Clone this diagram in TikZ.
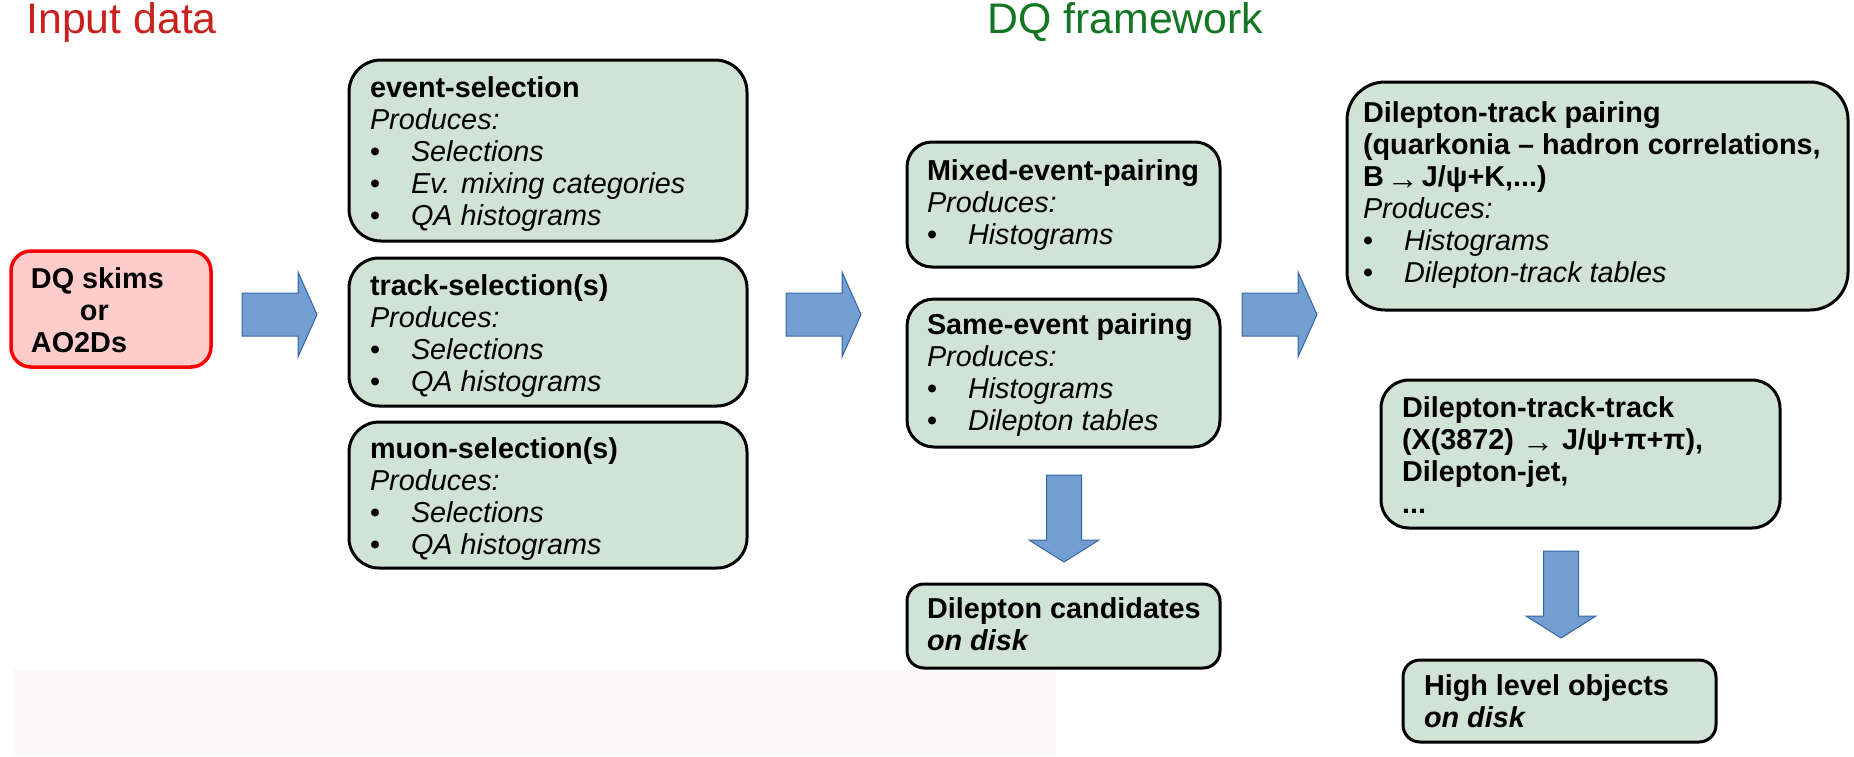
\documentclass[tikz,border=0pt]{standalone}
\usepackage{fontspec}
\setmainfont{Liberation Sans}
\usetikzlibrary{fit}
\definecolor{boxgreen}{HTML}{D0E3D4}
\definecolor{boxpink}{HTML}{FFCCCC}
\definecolor{boxred}{HTML}{FF0000}
\definecolor{arrfill}{HTML}{729FCF}
\definecolor{arrline}{HTML}{3465A4}
\definecolor{titlered}{HTML}{C9211E}
\definecolor{titlegreen}{HTML}{127622}
\definecolor{faintbg}{HTML}{FAF8F9}
\newcommand{\boxtext}[1]{\begin{minipage}[t]{260pt}\fontsize{14.4}{16}\selectfont\raggedright\noindent #1\end{minipage}}
\newcommand{\itm}[1]{\makebox[20.5pt][l]{•}\textit{#1}}
\newcommand{\smarr}{{\fontsize{16}{16}\selectfont\mdseries\raisebox{-1.5pt}{→}}}
\tikzset{
  gbox/.style={draw=black, line width=1.5pt, fill=boxgreen, inner sep=0pt},
  pbox/.style={draw=boxred, line width=1.75pt, fill=boxpink, inner sep=0pt},
  txt/.style={anchor=base west, inner sep=0pt, outer sep=0pt},
  title/.style={anchor=base west, inner sep=0pt, font=\fontsize{21.4}{24}\selectfont},
  arrstyle/.style={fill=arrfill, draw=arrline, line width=0.5pt, line join=miter},
  rarrow/.pic={\draw[arrstyle] (0,-21.5) -- (56,-21.5) -- (56,-42.5) -- (75,0) -- (56,42.5) -- (56,21.5) -- (0,21.5) -- cycle;},
  darrow/.pic={\draw[arrstyle] (-17.5,0) -- (17.5,0) -- (17.5,65) -- (35,65) -- (0,87) -- (-35,65) -- (-17.5,65) -- cycle;}
}
\begin{document}
\begin{tikzpicture}[x=0.5pt, y=-0.5pt]
\useasboundingbox (0,0) rectangle (1854,756);
\fill[faintbg] (14,669) rectangle (1056,756);

% titles
\node[title, text=titlered] (tin) at (26,33) {Input data};
\node[title, text=titlegreen] (tdq) at (987,33) {DQ framework};

% boxes
\node[pbox, rounded corners=10pt, fit={(11,251) (211,367)}] (dq) {};
\node[gbox, rounded corners=16pt, fit={(349,60) (747,241)}] (ev) {};
\node[gbox, rounded corners=15pt, fit={(349,258) (747,406)}] (tr) {};
\node[gbox, rounded corners=15pt, fit={(349,422) (747,568)}] (mu) {};
\node[gbox, rounded corners=12.5pt, fit={(907,142) (1220,267)}] (mix) {};
\node[gbox, rounded corners=13.5pt, fit={(907,299) (1220,447)}] (same) {};
\node[gbox, rounded corners=8.5pt, fit={(907,584) (1220,668)}] (cand) {};
\node[gbox, rounded corners=19pt, fit={(1347,82) (1848,310)}] (dtp) {};
\node[gbox, rounded corners=14pt, fit={(1381,380) (1780,528)}] (dtt) {};
\node[gbox, rounded corners=8.5pt, fit={(1403,660) (1716,742)}] (hlo) {};

% texts
\node[txt] (dqt) at (31,288) {\boxtext{\textbf{DQ skims}\\ \hspace*{24.5pt}\textbf{or}\\ \textbf{AO2Ds}}};
\node[txt] (evt) at (370,97) {\boxtext{\textbf{event-selection}\\ \textit{Produces:}\\ \itm{Selections}\\ \itm{Ev. mixing categories}\\ \itm{QA histograms}}};
\node[txt] (trt) at (370,295) {\boxtext{\textbf{track-selection(s)}\\ \textit{Produces:}\\ \itm{Selections}\\ \itm{QA histograms}}};
\node[txt] (mut) at (370,458) {\boxtext{\textbf{muon-selection(s)}\\ \textit{Produces:}\\ \itm{Selections}\\ \itm{QA histograms}}};
\node[txt] (mixt) at (927,180) {\boxtext{\textbf{Mixed-event-pairing}\\ \textit{Produces:}\\ \itm{Histograms}}};
\node[txt] (samet) at (927,334) {\boxtext{\textbf{Same-event pairing}\\ \textit{Produces:}\\ \itm{Histograms}\\ \itm{Dilepton tables}}};
\node[txt] (candt) at (927,618) {\boxtext{\textbf{Dilepton candidates}\\ \textbf{\textit{on disk}}}};
\node[txt] (dtpt) at (1363,122) {\boxtext{\textbf{Dilepton-track pairing}\\ \textbf{(quarkonia – hadron correlations,}\\ \textbf{B\kern1.5pt\smarr\kern1.5pt J/ψ+K,...)}\\ \textit{Produces:}\\ \itm{Histograms}\\ \itm{Dilepton-track tables}}};
\node[txt] (dttt) at (1402,417) {\boxtext{\textbf{Dilepton-track-track}\\ \textbf{(X(3872) \smarr{} J/ψ+π+π),}\\ \textbf{Dilepton-jet,}\\ \textbf{...}}};
\node[txt] (hlot) at (1424,695) {\boxtext{\textbf{High level objects}\\ \textbf{\textit{on disk}}}};

% block arrows
\pic (a1) at (242,314.5) {rarrow};
\pic (a2) at (786,314.5) {rarrow};
\pic (a3) at (1242,314.5) {rarrow};
\pic (a4) at (1064,475) {darrow};
\pic (a5) at (1561,551) {darrow};
\end{tikzpicture}
\end{document}
